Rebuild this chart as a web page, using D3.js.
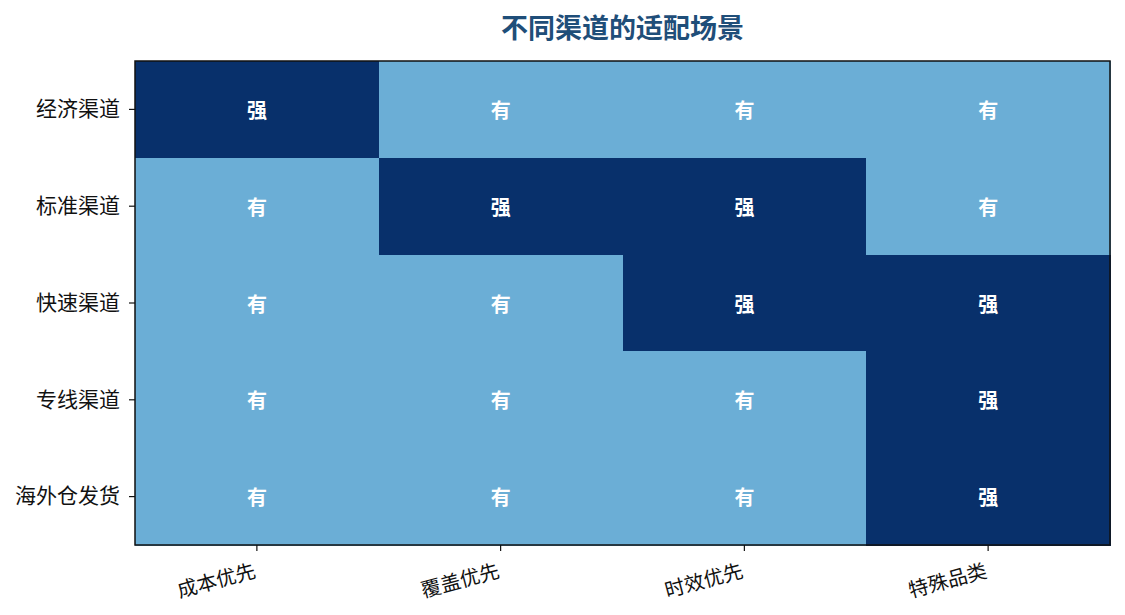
<!DOCTYPE html>
<html><head><meta charset="utf-8">
<script src="https://cdn.jsdelivr.net/npm/d3@7/dist/d3.min.js"></script>
<style>
body{margin:0;background:#fff;}
svg text{font-family:"Noto Sans CJK SC","Noto Sans",sans-serif;}
</style></head>
<body><svg id="c" width="1125" height="615"></svg>
<script>
const title = "不同渠道的适配场景";
const channels = ["经济渠道","标准渠道","快速渠道","专线渠道","海外仓发货"];
const scenarios = ["成本优先","覆盖优先","时效优先","特殊品类"];
const levels = [
  ["强","有","有","有"],
  ["有","强","强","有"],
  ["有","有","强","强"],
  ["有","有","有","强"],
  ["有","有","有","强"]
];
const levelNames = ["有","强"];
const levelColors = ["#6baed6","#08306b"];

const svg = d3.select("#c");
const m = {left:135, right:15, top:61, bottom:70};
const W = 1125 - m.left - m.right, H = 615 - m.top - m.bottom;
const g = svg.append("g").attr("transform",`translate(${m.left},${m.top})`);
const x = d3.scaleBand().domain(scenarios).range([0,W]).padding(0);
const y = d3.scaleBand().domain(channels).range([0,H]).padding(0);
const color = d3.scaleOrdinal().domain(levelNames).range(levelColors);

const cells = [];
channels.forEach((c,i)=>scenarios.forEach((s,j)=>cells.push({c,s,v:levels[i][j]})));

g.selectAll("rect.cell").data(cells).join("rect").attr("class","cell")
  .attr("x",d=>x(d.s)).attr("y",d=>y(d.c))
  .attr("width",x.bandwidth()+0.6).attr("height",y.bandwidth()+0.6)
  .attr("shape-rendering","crispEdges")
  .attr("fill",d=>color(d.v));

g.selectAll("text.lab").data(cells).join("text").attr("class","lab")
  .attr("x",d=>x(d.s)+x.bandwidth()/2).attr("y",d=>y(d.c)+y.bandwidth()/2)
  .attr("text-anchor","middle").attr("dominant-baseline","central")
  .attr("fill","#fff").attr("font-weight","bold").attr("font-size",20)
  .text(d=>d.v);

g.append("rect").attr("x",0).attr("y",0).attr("width",W).attr("height",H)
  .attr("fill","none").attr("stroke","#111").attr("stroke-width",1.5);

const xa = g.append("g").attr("transform",`translate(0,${H})`)
  .call(d3.axisBottom(x).tickSize(6).tickSizeOuter(0));
xa.select(".domain").remove();
xa.selectAll("line").attr("stroke","#111").attr("stroke-width",1.2);
xa.selectAll("text").attr("font-size",20).attr("fill","#111")
  .attr("text-anchor","end").attr("dy",0).attr("y",0)
  .attr("transform","translate(0,32) rotate(-15)");

const ya = g.append("g").call(d3.axisLeft(y).tickSize(6).tickSizeOuter(0));
ya.select(".domain").remove();
ya.selectAll("line").attr("stroke","#111").attr("stroke-width",1.2);
ya.selectAll("text").attr("font-size",21).attr("fill","#111").attr("x",-15);

svg.append("text").attr("x",m.left+W/2).attr("y",38)
  .attr("text-anchor","middle").attr("font-weight","bold").attr("font-size",27)
  .attr("fill","#1f4e79").text(title);
</script></body></html>
